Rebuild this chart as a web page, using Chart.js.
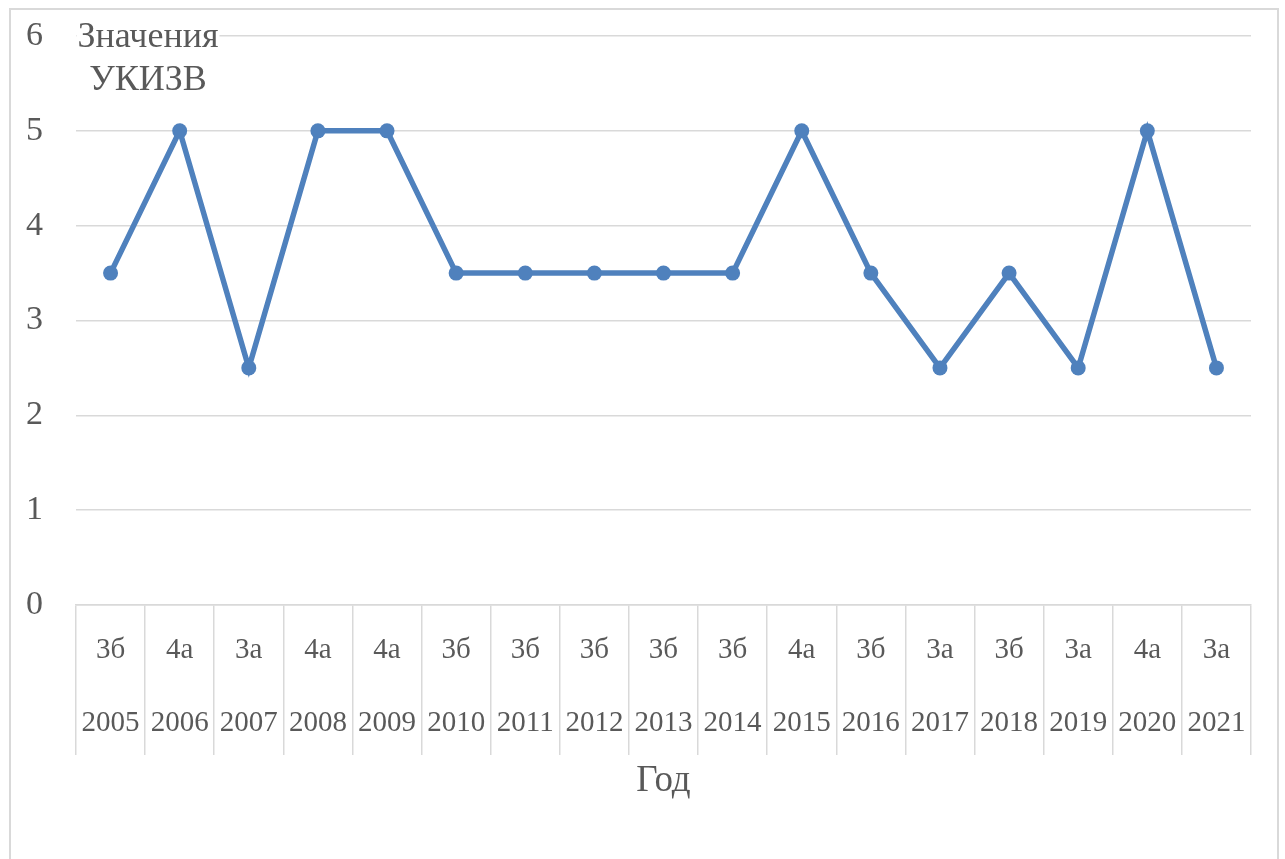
<!DOCTYPE html>
<html>
<head>
<meta charset="utf-8">
<script src="https://cdn.jsdelivr.net/npm/chart.js@4.4.1/dist/chart.umd.min.js"></script>
<style>
  html, body { margin: 0; padding: 0; background: #ffffff; }
  #frame { position: absolute; left: 9px; top: 8px; width: 1270px; height: 870px; border: 2px solid #d9d9d9; box-sizing: border-box; }
  #wrap { position: absolute; left: 0; top: 0; width: 1285px; height: 859px; }
</style>
</head>
<body>
<div id="frame"></div>
<div id="wrap"><canvas id="c" width="1285" height="859"></canvas></div>
<script>
const years = ['2005','2006','2007','2008','2009','2010','2011','2012','2013','2014','2015','2016','2017','2018','2019','2020','2021'];
const classes = ['3б','4а','3а','4а','4а','3б','3б','3б','3б','3б','4а','3б','3а','3б','3а','4а','3а'];
const values = [3.5, 5, 2.5, 5, 5, 3.5, 3.5, 3.5, 3.5, 3.5, 5, 3.5, 2.5, 3.5, 2.5, 5, 2.5];
const yTicks = [0, 1, 2, 3, 4, 5, 6];
const yTitleLines = ['Значения', 'УКИЗВ'];
const xTitle = 'Год';

const labels = years.map((y, i) => [classes[i], y]);
const FONT = "'Liberation Serif', 'Times New Roman', serif";
const TEXT = '#595959';
const GRID = '#d9d9d9';

const yTitlePlugin = {
  id: 'yTitle',
  afterDraw(chart) {
    const ctx = chart.ctx;
    const area = chart.chartArea;
    ctx.save();
    ctx.font = '36px ' + FONT;
    const cx = area.left + 72;
    const w = Math.max(...yTitleLines.map(t => ctx.measureText(t).width));
    ctx.fillStyle = '#ffffff';
    ctx.fillRect(cx - w / 2 - 1, area.top - 14, w + 2, 28);
    ctx.fillStyle = TEXT;
    ctx.textAlign = 'center';
    ctx.textBaseline = 'middle';
    yTitleLines.forEach((t, i) => ctx.fillText(t, cx, area.top + 2 + i * 43));
    ctx.restore();
  }
};

new Chart(document.getElementById('c'), {
  type: 'line',
  data: {
    labels: labels,
    datasets: [{
      data: values,
      borderColor: '#4f81bd',
      backgroundColor: '#4f81bd',
      borderWidth: 5.5,
      pointRadius: 7.5,
      pointHoverRadius: 7.5,
      pointBackgroundColor: '#4f81bd',
      pointBorderColor: '#4f81bd',
      pointBorderWidth: 0,
      tension: 0,
      fill: false
    }]
  },
  options: {
    responsive: false,
    animation: false,
    events: [],
    layout: { padding: { left: 0, right: 34, top: 36, bottom: 56 } },
    plugins: { legend: { display: false }, tooltip: { enabled: false }, title: { display: false } },
    scales: {
      x: {
        type: 'category',
        offset: true,
        grid: { offset: true, drawOnChartArea: false, drawTicks: true, tickLength: 150, color: GRID, lineWidth: 1.5 },
        border: { display: true, color: GRID, width: 1.5 },
        ticks: {
          autoSkip: false, maxRotation: 0, minRotation: 0,
          color: TEXT,
          font: { family: FONT, size: 29, lineHeight: '73px' },
          padding: -141
        },
        title: { display: true, text: xTitle, color: TEXT, font: { family: FONT, size: 37 }, padding: { top: 0, bottom: 0 } },
        afterFit(scale) { scale.height = 198; }
      },
      y: {
        min: 0, max: 6,
        afterBuildTicks(scale) { scale.ticks = yTicks.map(v => ({ value: v })); },
        grid: { color: GRID, lineWidth: 1.5, drawTicks: true, tickLength: 33, tickColor: 'rgba(0,0,0,0)' },
        border: { display: false },
        ticks: { color: TEXT, font: { family: FONT, size: 34 }, padding: 0 },
        afterFit(scale) { scale.width = 76; }
      }
    }
  },
  plugins: [yTitlePlugin]
});
</script>
</body>
</html>
